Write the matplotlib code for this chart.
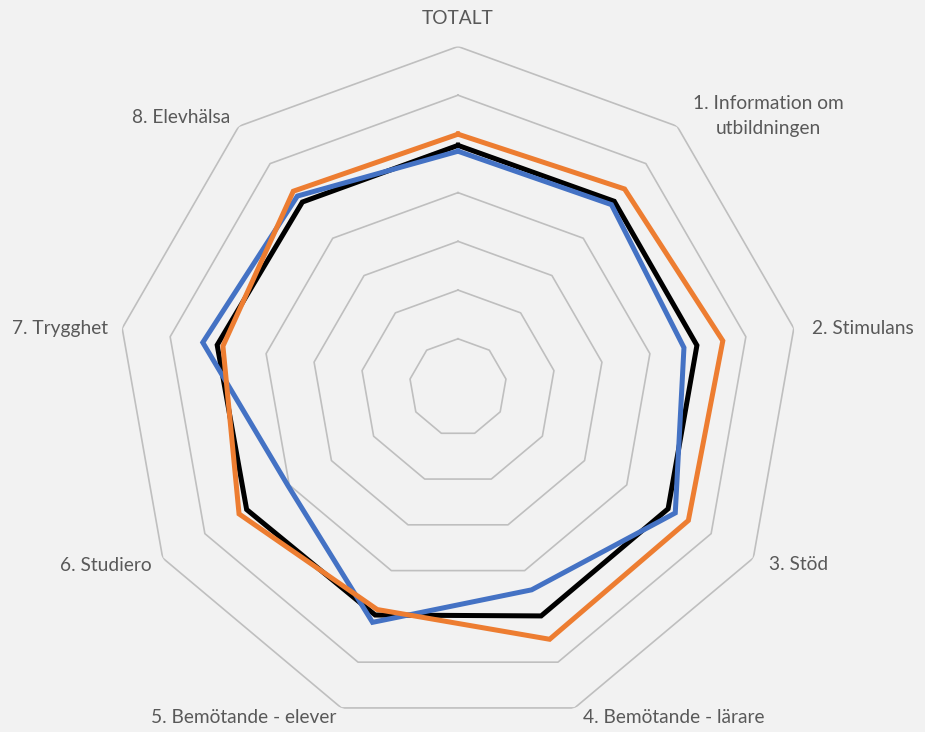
import numpy as np
import matplotlib.pyplot as plt

plt.rcParams['font.family'] = ['Lato', 'DejaVu Sans']

# axis labels, clockwise from the top
categories = ['TOTALT', '1. Information om\nutbildningen', '2. Stimulans', '3. Stöd',
              '4. Bemötande - lärare', '5. Bemötande - elever', '6. Studiero',
              '7. Trygghet', '8. Elevhälsa']

# values (ring step = 1, centre = 0)
black_vals = [4.97, 4.99, 4.98, 4.98, 4.99, 4.97, 5.01, 5.02, 4.97]
blue_vals = [4.85, 4.90, 4.71, 5.15, 4.42, 5.13, 4.03, 5.32, 5.13]
orange_vals = [5.20, 5.32, 5.52, 5.46, 5.50, 4.85, 5.19, 4.90, 5.26]

ring_levels = [1, 2, 3, 4, 5, 6, 7]

n = len(categories)
theta = np.linspace(0, 2 * np.pi, n, endpoint=False)
theta_closed = np.append(theta, theta[0])

W, H = 925, 732
fig = plt.figure(figsize=(W / 100, H / 100), dpi=100, facecolor='#F2F2F2')

# centre of the web at (458, 387.5) px, outer radius 341 px
cx, cy, R = 458, 387.5, 341
ax = fig.add_axes([(cx - R) / W, (H - cy - R) / H, 2 * R / W, 2 * R / H], projection='polar')
ax.set_theta_offset(np.pi / 2)
ax.set_theta_direction(-1)
ax.set_ylim(0, 7)
ax.set_facecolor('none')
ax.grid(False)
ax.spines['polar'].set_visible(False)
ax.set_xticks([])
ax.set_yticks([])

for lvl in ring_levels:
    ax.plot(theta_closed, [lvl] * (n + 1), color='#BFBFBF', lw=1.2, zorder=1)

for vals, col in [(black_vals, '#000000'), (blue_vals, '#4472C4'), (orange_vals, '#ED7D31')]:
    ax.plot(theta_closed, vals + vals[:1], color=col, lw=3.6,
            solid_joinstyle='miter', zorder=3)

# label placement relative to the outer vertex (pixels, y up)
label_offsets = [(0, 28.5, 'center'), (91.5, 10, 'center'), (18, 0, 'left'),
                 (16, -7, 'left'), (8, -10, 'left'), (-5, -10, 'right'),
                 (-11, -7, 'right'), (-14.5, 0, 'right'), (-9, 9, 'right')]

for t, lab, (dx, dy, ha) in zip(theta, categories, label_offsets):
    ax.annotate(lab, xy=(t, 7), xytext=(dx, dy), textcoords='offset pixels',
                ha=ha, va='center', multialignment='center', linespacing=1.6,
                fontsize=13.8, color='#595959', annotation_clip=False)

fig.savefig('out.png', dpi=100, facecolor=fig.get_facecolor())
